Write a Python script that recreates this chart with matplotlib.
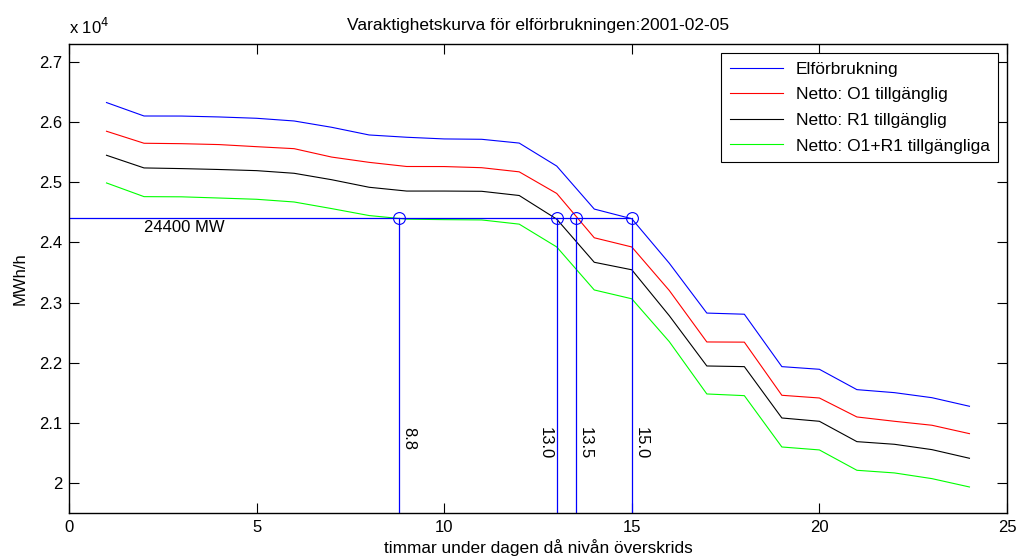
import numpy as np
import matplotlib
matplotlib.use("Agg")
import matplotlib.pyplot as plt
from matplotlib.ticker import FuncFormatter

hours = list(range(1, 25))
elforbrukning = [26330, 26106, 26105, 26090, 26068, 26023, 25918, 25790, 25752, 25724, 25718, 25655,
                 25272, 24556, 24395, 23654, 22824, 22805, 21932, 21888, 21549, 21499, 21415, 21272]
netto_o1 = [25852, 25652, 25645, 25630, 25595, 25562, 25422, 25334, 25265, 25264, 25245, 25176,
            24816, 24078, 23925, 23200, 22343, 22340, 21455, 21410, 21094, 21022, 20956, 20816]
netto_r1 = [25452, 25241, 25230, 25215, 25196, 25152, 25045, 24919, 24856, 24856, 24852, 24782,
            24388, 23670, 23545, 22780, 21943, 21932, 21077, 21022, 20683, 20639, 20550, 20406]
netto_o1r1 = [24991, 24763, 24760, 24740, 24719, 24674, 24564, 24448, 24388, 24380, 24375, 24305,
              23925, 23209, 23062, 22348, 21477, 21449, 20594, 20545, 20206, 20162, 20067, 19928]

level = 24400
crossings = [8.8, 13.0, 13.5, 15.0]
crossing_labels = ["8.8", "13.0", "13.5", "15.0"]
label_side = ["right", "left", "right", "right"]

series = [(elforbrukning, "b", "Elförbrukning"),
          (netto_o1, "r", "Netto: O1 tillgänglig"),
          (netto_r1, "k", "Netto: R1 tillgänglig"),
          (netto_o1r1, "#00ff00", "Netto: O1+R1 tillgängliga")]

plt.rcParams.update({"font.family": ["Liberation Sans", "DejaVu Sans"], "font.size": 12})
fig = plt.figure(figsize=(10.19, 5.60), dpi=100)
ax = fig.add_axes([0.0677, 0.0845, 0.9205, 0.8364])

for vals, col, lab in series:
    ax.plot(hours, vals, color=col, lw=0.8, label=lab)

# threshold level and the hours where each curve crosses it
ax.plot([0, max(crossings) - 0.04], [level, level], color="b", lw=0.9)
ax.text(2.0, level - 30, "%d MW" % level, ha="left", va="top", fontsize=12)
for xc, txt, side in zip(crossings, crossing_labels, label_side):
    ax.plot([xc, xc], [19500, level], color="b", lw=0.9)
    ax.plot([xc], [level], "o", ms=8.5, mfc="none", mec="b", mew=0.8)
    dx = 0.06 if side == "right" else -0.1
    ax.text(xc + dx, 20920, txt, rotation=-90, ha=("left" if side == "right" else "right"),
            va="top", fontsize=12)

ax.set_xlim(0, 25)
ax.set_ylim(19500, 27300)
ax.set_xticks([0, 5, 10, 15, 20, 25])
ax.set_yticks(np.arange(20000, 27001, 1000))
ax.yaxis.set_major_formatter(FuncFormatter(lambda v, p: "%g" % (v / 1e4)))
ax.tick_params(direction="in", top=True, right=True, length=7, width=0.8, labelsize=12, pad=5)
for s in ax.spines.values():
    s.set_linewidth(1.0)
ax.text(0.0, 1.015, "x 10$^{4}$", transform=ax.transAxes, ha="left", va="bottom", fontsize=12)

ax.set_title("Varaktighetskurva för elförbrukningen:2001-02-05", fontsize=12.5, pad=10)
ax.set_xlabel("timmar under dagen då nivån överskrids", fontsize=12.4, labelpad=3)
ax.set_ylabel("MWh/h", fontsize=12, labelpad=8)

leg = ax.legend(loc="upper right", fontsize=12.5, handlelength=3.1, labelspacing=0.6,
                borderpad=0.5, handletextpad=0.7, fancybox=False, framealpha=1, edgecolor="k",
                borderaxespad=0.5)
leg.get_frame().set_linewidth(0.8)

fig.savefig("out.png", dpi=100)
